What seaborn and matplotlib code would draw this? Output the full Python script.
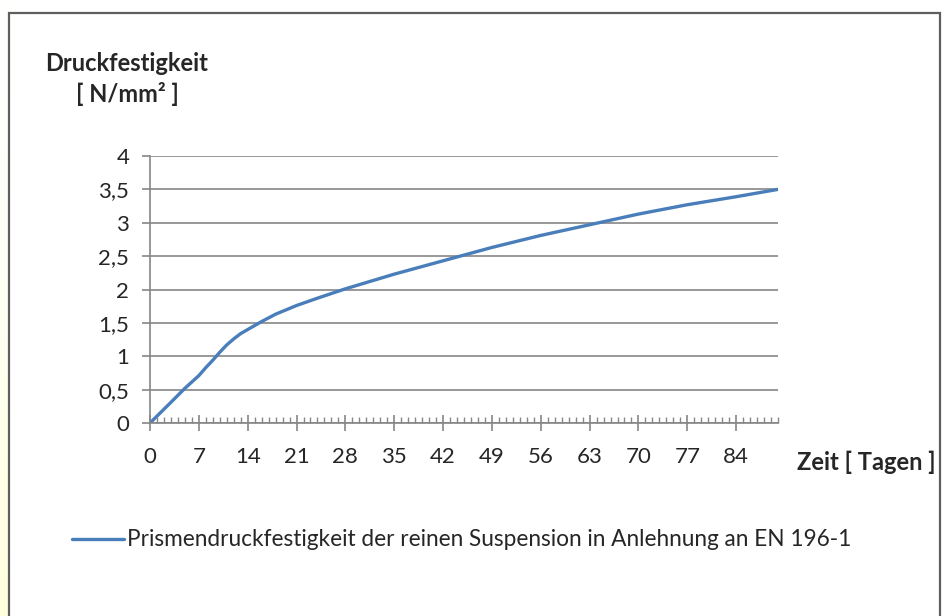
# druckfestigkeit.py

import numpy as np
import pandas as pd
import matplotlib.pyplot as plt
import matplotlib.patches as patches
from matplotlib.ticker import MultipleLocator, FixedLocator
import seaborn as sns

# values
tage = [0, 3, 5, 7, 8, 9, 10, 11, 12, 13, 14, 16, 18, 21, 24, 28,
        35, 42, 49, 56, 63, 70, 77, 84, 90]
festigkeit = [0.0, 0.31, 0.52, 0.71, 0.83, 0.94, 1.06, 1.17, 1.26, 1.34, 1.40,
              1.52, 1.63, 1.76, 1.87, 2.01, 2.23, 2.43, 2.63, 2.81, 2.97,
              3.13, 3.27, 3.39, 3.50]
x_ticks = [0, 7, 14, 21, 28, 35, 42, 49, 56, 63, 70, 77, 84]
y_ticks = [0, 0.5, 1, 1.5, 2, 2.5, 3, 3.5, 4]
y_labels = ["0", "0,5", "1", "1,5", "2", "2,5", "3", "3,5", "4"]
serie = "Prismendruckfestigkeit der reinen Suspension in Anlehnung an EN 196-1"

df = pd.DataFrame({"Tage": tage, "Festigkeit": festigkeit})

sns.set_style("white")
plt.rcParams['font.family'] = ['Lato', 'DejaVu Sans']

W, H = 943, 616
fig = plt.figure(figsize=(W / 100, H / 100), dpi=100)

# yellowish strip on the far left
strip = fig.add_axes([0, 0, 8 / W, 1])
grad = np.linspace(0, 1, 256) ** 1.5
img = np.ones((256, 1, 3))
img[:, 0, 2] = 1 - 0.13 * grad
strip.imshow(img, aspect="auto", extent=[0, 1, 0, 1], origin="upper")
strip.axis("off")

# chart frame
fig.patches.append(patches.Rectangle((8.5 / W, -0.05), (940 - 8.5) / W, 1.05 - 13 / H,
                                     transform=fig.transFigure, fill=False,
                                     edgecolor="#5e5e5e", linewidth=1.6))

ax = fig.add_axes([150 / W, 1 - 423 / H, (778 - 150) / W, (423 - 156) / H])
sns.lineplot(data=df, x="Tage", y="Festigkeit", ax=ax, color="#4a7ebb",
             linewidth=2.4, label=serie)

grid_c = "#868686"
ax.set_xlim(0, 90)
ax.set_ylim(0, 4)
ax.xaxis.set_major_locator(FixedLocator(x_ticks))
ax.xaxis.set_minor_locator(MultipleLocator(1))
ax.set_yticks(y_ticks)
ax.set_yticklabels(y_labels)
ax.yaxis.grid(True, color=grid_c, linewidth=1.2)
ax.xaxis.grid(False)
for s in ["top", "right"]:
    ax.spines[s].set_visible(False)
for s in ["left", "bottom"]:
    ax.spines[s].set_color(grid_c)
    ax.spines[s].set_linewidth(1.2)
ax.tick_params(axis="y", which="major", direction="out", length=6, width=1.2,
               color=grid_c, labelsize=16, pad=9, left=True)
ax.tick_params(axis="x", which="major", direction="inout", length=12, width=1.2,
               color=grid_c, labelsize=16, pad=11, bottom=True)
ax.tick_params(axis="x", which="minor", direction="in", length=4.5, width=1,
               color=grid_c, bottom=True)
ax.set_xlabel("")
ax.set_ylabel("")

fig.text(127 / W, 1 - 79 / H, "Druckfestigkeit\n[ N/mm² ]", ha="center", va="center",
         fontsize=17, fontweight="bold", linespacing=1.35)
fig.text(866 / W, 1 - 462 / H, "Zeit [ Tagen ]", ha="center", va="center",
         fontsize=17, fontweight="bold")

ax.legend(loc="center left", bbox_to_anchor=(52 / W, 1 - 540 / H),
          bbox_transform=fig.transFigure, frameon=False, fontsize=16.3,
          handlelength=2.3, handletextpad=0.1)

fig.savefig("out.png", dpi=100)
